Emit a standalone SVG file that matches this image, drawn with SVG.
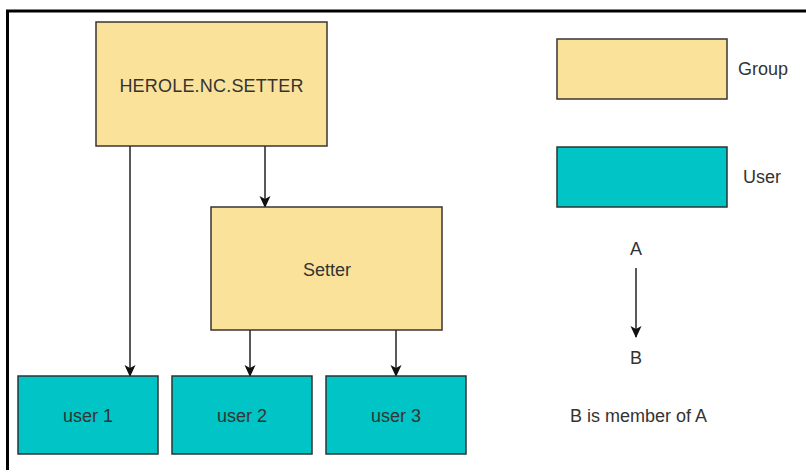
<svg xmlns="http://www.w3.org/2000/svg" width="806" height="472" viewBox="0 0 806 472">
<defs>
<style>
.grp{fill:#FBE29B;stroke:#3a3530;stroke-width:1.5}
.usr{fill:#00C4C6;stroke:#2a3535;stroke-width:1.5}
.lbl{font-family:"Liberation Sans",Arial,sans-serif;font-size:18px;fill:#333;text-anchor:middle}
.lg{font-family:"Liberation Sans",Arial,sans-serif;font-size:18px;fill:#333}
.con{stroke:#222;stroke-width:1.5;fill:none;marker-end:url(#ah)}
</style>
<marker id="ah" markerWidth="12" markerHeight="12" refX="11" refY="6" orient="auto" markerUnits="userSpaceOnUse">
<path d="M0,0.5 L12,6 L0,11.5 L3,6 z" fill="#111"/>
</marker>
</defs>
<rect width="806" height="472" fill="#fff"/>
<path d="M7.5,470 V11 H806" fill="none" stroke="#000" stroke-width="3"/>
<g id="connectors">
<line class="con" x1="130" y1="146" x2="130" y2="376"/>
<line class="con" x1="265" y1="146" x2="265" y2="207"/>
<line class="con" x1="250" y1="330" x2="250" y2="376"/>
<line class="con" x1="396" y1="330" x2="396" y2="376"/>
</g>
<g id="herole">
<rect class="grp" x="96" y="22" width="231" height="124"/>
<text class="lbl" x="211.5" y="92" style="letter-spacing:0.2px">HEROLE.NC.SETTER</text>
</g>
<g id="setter">
<rect class="grp" x="211" y="207" width="231" height="123"/>
<text class="lbl" x="327" y="276">Setter</text>
</g>
<g id="user1">
<rect class="usr" x="18" y="376" width="140" height="78"/>
<text class="lbl" x="88" y="422">user 1</text>
</g>
<g id="user2">
<rect class="usr" x="172" y="376" width="140" height="78"/>
<text class="lbl" x="242" y="422">user 2</text>
</g>
<g id="user3">
<rect class="usr" x="326" y="376" width="140" height="78"/>
<text class="lbl" x="396" y="422">user 3</text>
</g>
<g id="legend">
<rect class="grp" x="557" y="39" width="170" height="60"/>
<text class="lg" x="738" y="75">Group</text>
<rect class="usr" x="557" y="147" width="170" height="60"/>
<text class="lg" x="743" y="183">User</text>
<text class="lbl" x="636" y="255">A</text>
<line class="con" x1="636" y1="268" x2="636" y2="337"/>
<text class="lbl" x="636" y="364">B</text>
<text class="lg" x="570" y="422">B is member of A</text>
</g>
</svg>
